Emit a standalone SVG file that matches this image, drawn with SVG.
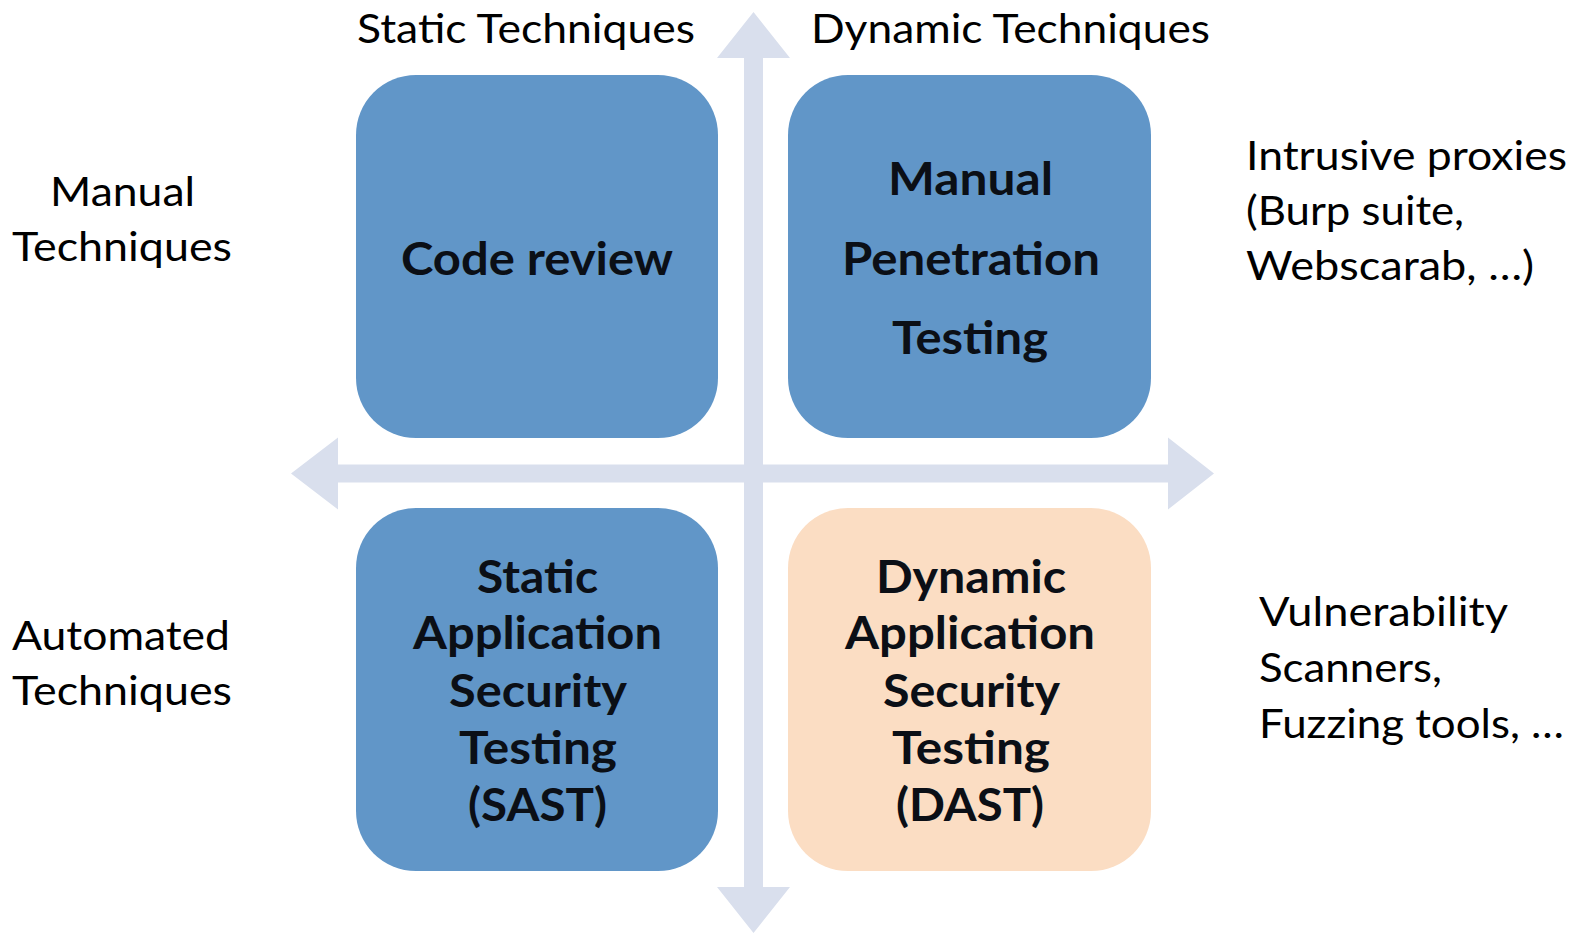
<svg xmlns="http://www.w3.org/2000/svg" width="1580" height="933" viewBox="0 0 1580 933">
<style>
.lbl{font-family:Lato,"Liberation Sans",sans-serif;font-size:41px;fill:#000}
.bt{font-family:Lato,"Liberation Sans",sans-serif;font-size:46px;font-weight:bold;fill:#0b0f16}
.blue{fill:#6196c8}
.peach{fill:#fbddc3}
.axis{fill:#d9dfed}
</style>
<rect width="1580" height="933" fill="#fff"/>
<g id="connectors">
<polygon class="axis" points="291,473.5 338,437.5 338,464.5 1168,464.5 1168,437.5 1214,473.5 1168,509.5 1168,482.5 338,482.5 338,509.5"/>
<polygon class="axis" points="753.5,12 790,58 763,58 763,887 790,887 753.5,933 717,887 744,887 744,58 717,58"/>
</g>
<g id="code-review">
<rect class="blue" x="356" y="75" width="362" height="363" rx="60" ry="60"/>
<text class="bt" x="401" y="275" textLength="272" lengthAdjust="spacingAndGlyphs">Code review</text>
</g>
<g id="manual-pentest">
<rect class="blue" x="788" y="75" width="363" height="363" rx="60" ry="60"/>
<text class="bt" x="888" y="195" textLength="165" lengthAdjust="spacingAndGlyphs">Manual</text>
<text class="bt" x="842" y="275" textLength="258" lengthAdjust="spacingAndGlyphs">Penetration</text>
<text class="bt" x="892" y="354" textLength="156" lengthAdjust="spacingAndGlyphs">Testing</text>
</g>
<g id="sast">
<rect class="blue" x="356" y="508" width="362" height="363" rx="60" ry="60"/>
<text class="bt" x="477" y="593" textLength="121" lengthAdjust="spacingAndGlyphs">Static</text>
<text class="bt" x="413" y="649" textLength="249" lengthAdjust="spacingAndGlyphs">Application</text>
<text class="bt" x="449" y="707" textLength="178" lengthAdjust="spacingAndGlyphs">Security</text>
<text class="bt" x="459" y="764" textLength="158" lengthAdjust="spacingAndGlyphs">Testing</text>
<text class="bt" x="468" y="821" textLength="139" lengthAdjust="spacingAndGlyphs">(SAST)</text>
</g>
<g id="dast">
<rect class="peach" x="788" y="508" width="363" height="363" rx="60" ry="60"/>
<text class="bt" x="876" y="593" textLength="190" lengthAdjust="spacingAndGlyphs">Dynamic</text>
<text class="bt" x="845" y="649" textLength="250" lengthAdjust="spacingAndGlyphs">Application</text>
<text class="bt" x="883" y="707" textLength="177" lengthAdjust="spacingAndGlyphs">Security</text>
<text class="bt" x="892" y="764" textLength="158" lengthAdjust="spacingAndGlyphs">Testing</text>
<text class="bt" x="896" y="821" textLength="148" lengthAdjust="spacingAndGlyphs">(DAST)</text>
</g>
<g id="static-techniques">
<text class="lbl" x="357" y="43" textLength="338" lengthAdjust="spacingAndGlyphs">Static Techniques</text>
</g>
<g id="dynamic-techniques">
<text class="lbl" x="811" y="43" textLength="399" lengthAdjust="spacingAndGlyphs">Dynamic Techniques</text>
</g>
<g id="manual-techniques">
<text class="lbl" x="50" y="206" textLength="145" lengthAdjust="spacingAndGlyphs">Manual</text>
<text class="lbl" x="12" y="261" textLength="220" lengthAdjust="spacingAndGlyphs">Techniques</text>
</g>
<g id="automated-techniques">
<text class="lbl" x="12" y="650" textLength="218" lengthAdjust="spacingAndGlyphs">Automated</text>
<text class="lbl" x="12" y="705" textLength="220" lengthAdjust="spacingAndGlyphs">Techniques</text>
</g>
<g id="intrusive-proxies">
<text class="lbl" x="1246" y="170" textLength="321" lengthAdjust="spacingAndGlyphs">Intrusive proxies</text>
<text class="lbl" x="1246" y="225" textLength="218" lengthAdjust="spacingAndGlyphs">(Burp suite,</text>
<text class="lbl" x="1246" y="280" textLength="288" lengthAdjust="spacingAndGlyphs">Webscarab, …)</text>
</g>
<g id="scanners">
<text class="lbl" x="1259" y="626" textLength="249" lengthAdjust="spacingAndGlyphs">Vulnerability</text>
<text class="lbl" x="1259" y="682" textLength="183" lengthAdjust="spacingAndGlyphs">Scanners,</text>
<text class="lbl" x="1259" y="738" textLength="305" lengthAdjust="spacingAndGlyphs">Fuzzing tools, …</text>
</g>
</svg>
